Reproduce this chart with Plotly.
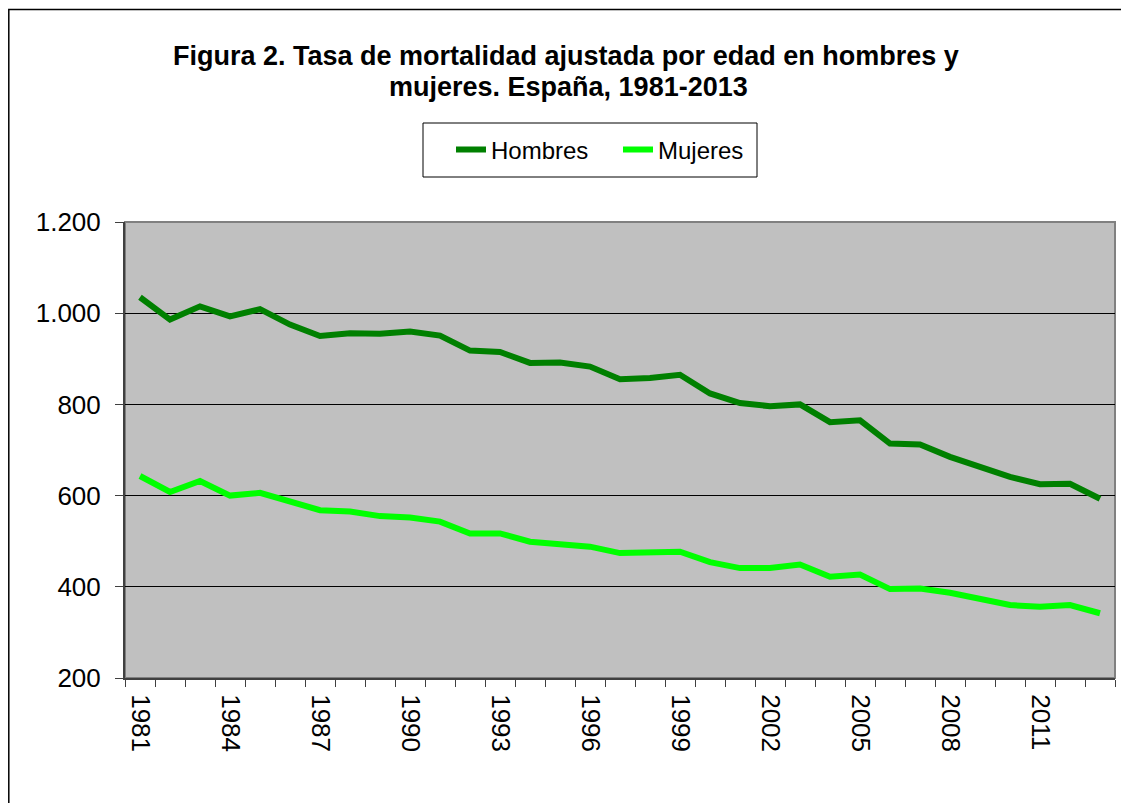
import plotly.graph_objects as go

years = list(range(1981, 2014))
hombres = [1035, 986, 1015, 993, 1009, 975, 950, 956, 955, 960, 951, 918, 915, 891, 892, 883,
           855, 858, 865, 824, 803, 796, 800, 761, 765, 714, 712, 685, 663, 641, 625, 626, 593]
mujeres = [643, 608, 632, 600, 606, 588, 568, 565, 555, 552, 543, 517, 517, 499, 494, 488,
           474, 474, 477, 454, 441, 441, 449, 422, 427, 395, 396, 387, 373, 360, 356, 360, 342]
tick_years = list(range(1981, 2014, 3))
y_ticks = [200, 400, 600, 800, 1000, 1200]

title_lines = ["Figura 2. Tasa de mortalidad ajustada por edad en hombres y",
               "mujeres. España, 1981-2013"]

FONT = "Liberation Sans, Arial, sans-serif"
OFF = 8  # page body margin
W, H = 1129 - OFF, 803 - OFF
# plot area in page pixels: left 125, right 1115, top 222, bottom 678
L = 125 - OFF
T = 222 - OFF
R = W - (1115 - OFF)
B = H - (678 - OFF)
pw, ph = W - L - R, H - T - B

def px_x(p):
    return (p - OFF - L) / pw

def px_y(p):
    return (H - B - (p - OFF)) / ph

fig = go.Figure()
fig.add_trace(go.Scatter(x=years, y=hombres, name="Hombres", mode="lines",
                         line=dict(color="#008000", width=6)))
fig.add_trace(go.Scatter(x=years, y=mujeres, name="Mujeres", mode="lines",
                         line=dict(color="#00FF00", width=6)))

fig.update_layout(
    width=W, height=H,
    margin=dict(l=L, r=R, t=T, b=B, autoexpand=False),
    paper_bgcolor="white",
    plot_bgcolor="#C0C0C0",
    separators=",.",
    font=dict(family=FONT, color="black", size=26),
    showlegend=True,
    legend=dict(orientation="h", x=px_x(618), y=px_y(150), xanchor="center", yanchor="middle",
                borderwidth=0, bgcolor="rgba(0,0,0,0)",
                font=dict(family=FONT, size=24, color="black"),
                itemwidth=30, tracegroupgap=0, entrywidth=122, entrywidthmode="pixels"),
    xaxis=dict(range=[1980.5, 2013.5], tickmode="array", tickvals=tick_years,
               ticktext=[str(y) for y in tick_years], tickangle=90,
               ticks="", showgrid=False, zeroline=False,
               showline=True, linecolor="#404040", linewidth=2,
               tickfont=dict(family=FONT, size=26, color="black"),
               ticklabelstandoff=9,
               minor=dict(tick0=1980.5, dtick=1, ticks="outside", ticklen=7,
                          tickcolor="#404040", tickwidth=1, showgrid=False)),
    yaxis=dict(range=[200, 1200], tickmode="array", tickvals=y_ticks,
               tickformat=",d", ticks="outside", ticklen=8, tickcolor="#404040",
               showgrid=True, gridcolor="black", gridwidth=1, zeroline=False,
               showline=True, linecolor="#404040", linewidth=2,
               tickfont=dict(family=FONT, size=26, color="black"),
               ticklabelstandoff=9),
    shapes=[
        dict(type="rect", xref="paper", yref="paper", x0=0, x1=1, y0=0, y1=1,
             line=dict(color="#808080", width=2), layer="below"),
        dict(type="rect", xref="paper", yref="paper",
             x0=px_x(8.8), x1=px_x(1145), y0=px_y(820), y1=px_y(9.5),
             line=dict(color="black", width=1.5), layer="below"),
        dict(type="rect", xref="paper", yref="paper",
             x0=px_x(423), x1=px_x(757), y0=px_y(177), y1=px_y(123),
             line=dict(color="black", width=1), fillcolor="white", layer="below"),
    ],
    annotations=[
        dict(text="<b>" + title_lines[0] + "</b>", xref="paper", yref="paper",
             x=px_x(566), y=px_y(56), xanchor="center", yanchor="middle", showarrow=False,
             font=dict(family=FONT, size=27, color="black")),
        dict(text="<b>" + title_lines[1] + "</b>", xref="paper", yref="paper",
             x=px_x(568), y=px_y(87), xanchor="center", yanchor="middle", showarrow=False,
             font=dict(family=FONT, size=27, color="black")),
    ],
)

fig.write_html("out.html")
